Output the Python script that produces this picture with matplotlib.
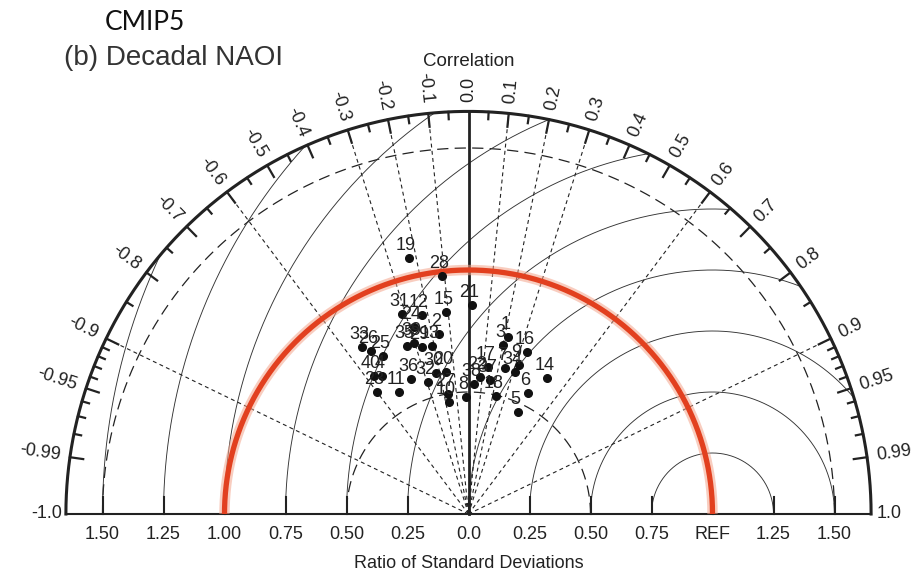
import matplotlib.pyplot as plt
import numpy as np

plt.rcParams['font.family'] = ['Liberation Sans', 'DejaVu Sans']

# model number, ratio of standard deviations, correlation
labels = [19, 28, 21, 31, 12, 15, 24, 2, 33, 26, 25, 35, 39, 29, 13, 40, 4, 23, 11, 36,
          32, 30, 20, 27, 10, 8, 3, 1, 16, 9, 34, 7, 17, 22, 38, 37, 18, 14, 6, 5]
std_ratio = [1.077, 0.981, 0.857, 0.864, 0.838, 0.833, 0.798, 0.748, 0.811, 0.778,
             0.736, 0.734, 0.736, 0.710, 0.705, 0.686, 0.668, 0.625, 0.576, 0.601,
             0.566, 0.593, 0.589, 0.499, 0.466, 0.480, 0.707, 0.743, 0.706, 0.645,
             0.613, 0.617, 0.608, 0.563, 0.533, 0.556, 0.497, 0.644, 0.553, 0.465]
correlation = [-0.227, -0.111, 0.017, -0.316, -0.228, -0.111, -0.280, -0.162, -0.538, -0.514,
               -0.476, -0.343, -0.303, -0.269, -0.212, -0.565, -0.531, -0.600, -0.495, -0.392,
               -0.293, -0.224, -0.156, -0.168, -0.172, -0.021, 0.200, 0.218, 0.340, 0.321,
               0.311, 0.243, 0.132, 0.084, 0.042, 0.158, 0.227, 0.500, 0.441, 0.436]

std_ticks = [-1.5, -1.25, -1.0, -0.75, -0.5, -0.25, 0.0, 0.25, 0.5, 0.75, 1.0, 1.25, 1.5]
std_tick_labels = ['1.50', '1.25', '1.00', '0.75', '0.50', '0.25', '0.0',
                   '0.25', '0.50', '0.75', 'REF', '1.25', '1.50']
cor_major = [0.1, 0.2, 0.3, 0.4, 0.5, 0.6, 0.7, 0.8, 0.9, 0.95, 0.99]
cor_minor = [0.05, 0.15, 0.25, 0.35, 0.45, 0.55, 0.65, 0.75, 0.85,
             0.91, 0.92, 0.93, 0.94, 0.96, 0.97, 0.98]
cor_rays = [0.1, 0.2, 0.3, 0.6, 0.9]
std_arcs = [0.5, 1.0, 1.5]
rms_arcs = [0.25, 0.5, 0.75, 1.0, 1.25, 1.5, 1.75, 2.0, 2.25, 2.5]
rmax = 1.65

fig = plt.figure(figsize=(9.24, 5.75), dpi=100)
ax = fig.add_axes([0, 0, 1, 1])
ax.set_xlim(-468.5 / 244, (924 - 468.5) / 244)
ax.set_ylim((514 - 575) / 244, 514 / 244)
ax.set_aspect('equal')
ax.axis('off')

ink = '#222222'
t = np.linspace(0, np.pi, 400)

# outer frame
ax.plot(rmax * np.cos(t), rmax * np.sin(t), color=ink, lw=2.2, zorder=3)
ax.plot([-rmax, rmax], [0, 0], color=ink, lw=1.5, zorder=3)
ax.plot([0, 0], [0, rmax], color=ink, lw=2.0, zorder=3)

# std dev dashed arcs
for r in std_arcs:
    ax.plot(r * np.cos(t), r * np.sin(t), color=ink, lw=0.9, dashes=(9, 5), zorder=2)

# centred RMS arcs around REF
for R in rms_arcs:
    if 1 + R > rmax:
        xi = (rmax**2 - R**2 + 1) / 2
        yi = np.sqrt(rmax**2 - xi**2)
        a0 = np.arctan2(yi, xi - 1)
    else:
        a0 = 0.0
    a = np.linspace(a0, np.pi, 300)
    ax.plot(1 + R * np.cos(a), R * np.sin(a), color='#333333', lw=0.65, zorder=2)

# correlation rays
for c in cor_rays:
    for s in (1, -1):
        th = np.arccos(s * c)
        ax.plot([0, rmax * np.cos(th)], [0, rmax * np.sin(th)], color=ink,
                lw=0.8, dashes=(3.5, 3), zorder=2)

# correlation ticks and labels
for c in cor_major + cor_minor:
    ln = 0.055 if c in cor_major else 0.03
    for s in (1, -1):
        th = np.arccos(s * c)
        ax.plot([(rmax - ln) * np.cos(th), rmax * np.cos(th)],
                [(rmax - ln) * np.sin(th), rmax * np.sin(th)], color=ink, lw=1.6, zorder=3)

for c in [0.0] + cor_major:
    for s in ((1, -1) if c > 0 else (1,)):
        th = np.arccos(s * c)
        txt = ('%.2f' % c).rstrip('0') if c in (0.95, 0.99) else '%.1f' % c
        if s < 0:
            txt = '-' + txt
            rot, ha = np.degrees(th) - 180, 'right'
        else:
            rot, ha = np.degrees(th), 'left'
        ax.text(1.69 * np.cos(th), 1.69 * np.sin(th), txt, rotation=rot,
                rotation_mode='anchor', ha=ha, va='center', fontsize=13, color=ink)

ax.text(-1.665, 0, '-1.0', ha='right', va='center', fontsize=13, color=ink)
ax.text(1.674, 0, '1.0', ha='left', va='center', fontsize=13, color=ink)
ax.text(0, (514 - 62) / 244, 'Correlation', ha='center', va='center', fontsize=13.5, color=ink)

# std dev axis ticks and labels
for x, lab in zip(std_ticks, std_tick_labels):
    ax.plot([x, x], [0, 0.07], color=ink, lw=1.5, zorder=3)
    ax.text(x, -0.086, lab, ha='center', va='center', fontsize=13, color=ink)
ax.text(0, -0.201, 'Ratio of Standard Deviations', ha='center', va='center',
        fontsize=13, color=ink)

# highlighted REF circle
ax.plot(np.cos(t), np.sin(t), color='#f4a48c', lw=7.5, alpha=0.55, zorder=4,
        solid_capstyle='butt')
ax.plot(np.cos(t), np.sin(t), color='#e2401f', lw=3.8, zorder=4, solid_capstyle='butt')

# models
std_ratio = np.array(std_ratio)
correlation = np.array(correlation)
px = std_ratio * correlation
py = std_ratio * np.sqrt(1 - correlation**2)
ax.plot(px, py, 'o', color='#111111', ms=5.5, zorder=5)
for x, y, lab in zip(px, py, labels):
    ax.annotate(str(lab), (x, y), xytext=(-2, 3), textcoords='offset points',
                ha='center', va='bottom', fontsize=13, color=ink, zorder=6)

fig.text(105 / 924, 1 - 22 / 575, 'CMIP5', fontsize=19, family='Lato', color='#111111',
         ha='left', va='center')
fig.text(64 / 924, 1 - 58 / 575, '(b) Decadal NAOI', fontsize=20, color='#333333',
         ha='left', va='center')

fig.savefig('out.png', dpi=100)
